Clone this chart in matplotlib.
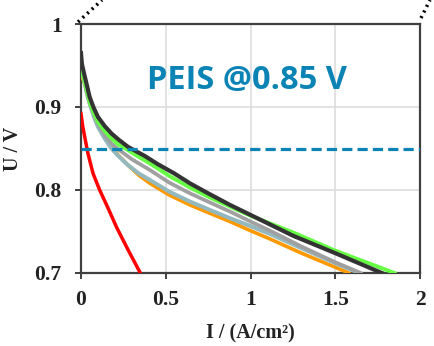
import matplotlib
matplotlib.use('Agg')
import matplotlib.pyplot as plt
from matplotlib.lines import Line2D
from matplotlib.ticker import FuncFormatter

plt.rcParams['font.family'] = 'Liberation Serif'
plt.rcParams['font.weight'] = 'bold'

# Data
i_black = [0, 0.005, 0.022, 0.035, 0.051, 0.075, 0.10, 0.14, 0.18, 0.22, 0.277, 0.376,
           0.454, 0.55, 0.643, 0.75, 0.879, 1.0, 1.25, 1.499, 1.775]
u_black = [0.965, 0.952, 0.937, 0.926, 0.912, 0.899, 0.888, 0.877, 0.868, 0.861, 0.852, 0.841,
           0.831, 0.820, 0.808, 0.796, 0.782, 0.770, 0.745, 0.724, 0.70]

i_green = [0, 0.005, 0.022, 0.035, 0.051, 0.075, 0.10, 0.14, 0.18, 0.22, 0.277, 0.34,
           0.407, 0.52, 0.643, 0.76, 0.879, 1.0, 1.125, 1.25, 1.499, 1.85]
u_green = [0.955, 0.943, 0.930, 0.919, 0.906, 0.893, 0.882, 0.871, 0.862, 0.855, 0.848, 0.840,
           0.832, 0.817, 0.803, 0.791, 0.780, 0.769, 0.759, 0.749, 0.727, 0.70]

i_gray = [0, 0.005, 0.022, 0.035, 0.051, 0.075, 0.10, 0.14, 0.18, 0.22, 0.30, 0.407,
          0.52, 0.643, 0.76, 0.879, 1.0, 1.115, 1.3, 1.499, 1.65]
u_gray = [0.952, 0.944, 0.930, 0.917, 0.905, 0.892, 0.880, 0.866, 0.856, 0.849, 0.837, 0.824,
          0.809, 0.796, 0.785, 0.774, 0.762, 0.751, 0.732, 0.713, 0.70]

i_blue = [0, 0.005, 0.022, 0.035, 0.051, 0.075, 0.10, 0.14, 0.18, 0.22, 0.277, 0.34,
          0.407, 0.52, 0.643, 0.76, 0.879, 1.0, 1.115, 1.3, 1.499, 1.64]
u_blue = [0.957, 0.945, 0.929, 0.916, 0.904, 0.889, 0.876, 0.862, 0.850, 0.841, 0.830, 0.820,
          0.812, 0.798, 0.786, 0.776, 0.766, 0.7565, 0.747, 0.730, 0.712, 0.70]

i_orange = [0, 0.005, 0.022, 0.035, 0.051, 0.075, 0.10, 0.14, 0.18, 0.22, 0.277, 0.34,
            0.407, 0.52, 0.643, 0.76, 0.879, 1.0, 1.115, 1.3, 1.499, 1.58]
u_orange = [0.942, 0.937, 0.928, 0.918, 0.907, 0.892, 0.880, 0.864, 0.852, 0.842, 0.830, 0.818,
            0.808, 0.794, 0.782, 0.772, 0.762, 0.751, 0.741, 0.724, 0.707, 0.70]

i_red = [0, 0.01, 0.022, 0.041, 0.071, 0.11, 0.16, 0.21, 0.28, 0.35]
u_red = [0.892, 0.877, 0.864, 0.844, 0.820, 0.800, 0.778, 0.755, 0.727, 0.70]

peis_voltage = 0.85

fig = plt.figure(figsize=(4.34, 3.46), dpi=100)
ax = fig.add_axes([81/434, 1 - 273/346, (420 - 81)/434, (273 - 24)/346])

ax.plot(i_orange, u_orange, color='#FF9900', lw=2.6, zorder=3)
ax.plot(i_blue, u_blue, color='#93B8BE', lw=2.9, zorder=3)
ax.plot(i_gray, u_gray, color='#A0A0A0', lw=2.7, zorder=3)
ax.plot(i_green, u_green, color='#66FF44', lw=2.8, zorder=3)
ax.plot(i_black, u_black, color='#333333', lw=3.0, zorder=4)
ax.plot(i_red, u_red, color='#FF0000', lw=2.5, zorder=5)

ax.axhline(peis_voltage, color='#0B84B5', lw=2.3, ls=(0, (3.2, 1.6)), zorder=6)
ax.text(0.49, 0.775, 'PEIS @0.85 V', transform=ax.transAxes, ha='center', va='center',
        fontsize=23.5, fontweight='bold', color='#0B84B5', family='Open Sans')

ax.set_xlim(0, 2)
ax.set_ylim(0.7, 1.0)
ax.set_xticks([0, 0.5, 1, 1.5, 2])
ax.set_yticks([0.7, 0.8, 0.9, 1.0])
fmt = FuncFormatter(lambda v, p: f'{v:g}')
ax.xaxis.set_major_formatter(fmt)
ax.yaxis.set_major_formatter(fmt)
ax.grid(True, color='#DDDDDD', lw=1.2, zorder=0)
ax.set_axisbelow(True)
for s in ax.spines.values():
    s.set_color('#404040')
    s.set_linewidth(1.6)
ax.tick_params(direction='out', length=4, width=1.4, color='#404040', labelsize=15.5,
               labelcolor='#222222')
ax.tick_params(axis='x', pad=8)
ax.tick_params(axis='y', pad=10)

ax.set_xlabel('I / (A/cm²)', fontsize=14.5, fontweight='bold', color='#222222', labelpad=10)
ax.set_ylabel('U / V', fontsize=14.5, fontweight='bold', color='#222222')
ax.yaxis.set_label_coords(-0.172, 0.5)

# zoom connector dots
fig.add_artist(Line2D([78/434, 102/434], [1 - 22/346, 1.0], transform=fig.transFigure,
                      color='black', lw=2.5, ls=(0, (0.6, 1.2)), solid_capstyle='round'))
fig.add_artist(Line2D([421/434, 430/434], [1 - 18/346, 1.0], transform=fig.transFigure,
                      color='black', lw=2.5, ls=(0, (0.6, 1.2)), solid_capstyle='round'))

fig.savefig('out.png', dpi=100)
